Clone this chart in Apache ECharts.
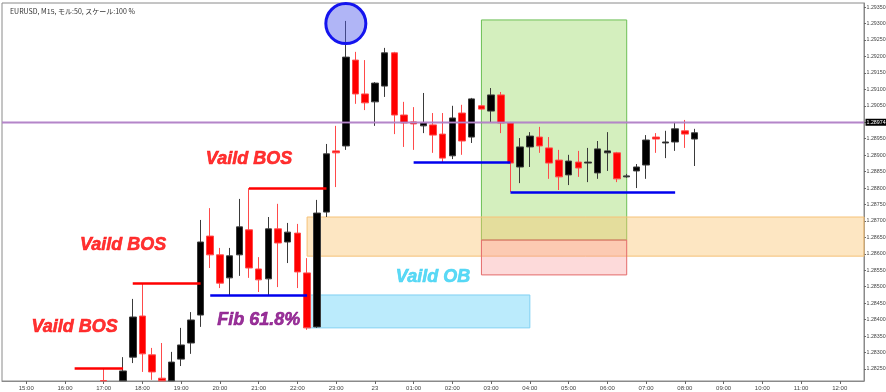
<!DOCTYPE html>
<html>
<head>
<meta charset="utf-8">
<script src="https://cdn.jsdelivr.net/npm/echarts@6/dist/echarts.min.js"></script>
<style>
html,body{margin:0;padding:0;background:#fff;}
#c{width:886px;height:392px;}
</style>
</head>
<body>
<div id="c"></div>
<script>
// ---- data ----
var chartTitle = 'EURUSD, M15, モル:50, スケール:100 %';
var axisStart = '14:30';
var axisSlots = 89;
var candleTimes = ['17:00','17:30','17:45','18:00','18:15','18:30','18:45','19:00','19:15','19:30','19:45','20:00','20:15','20:30','20:45','21:00','21:15','21:30','21:45','22:00','22:15','22:30','22:45','23:00','23:15','23:30','23:45','00:00','00:15','00:30','00:45','01:00','01:15','01:30','01:45','02:00','02:15','02:30','02:45','03:00','03:15','03:30','03:45','04:00','04:15','04:30','04:45','05:00','05:15','05:30','05:45','06:00','06:15','06:30','06:45','07:00','07:15','07:30','07:45','08:00','08:15'];
var opens  = [1.28215,1.28214,1.28286,1.28411,1.28293,1.28222,1.28214,1.28280,1.28329,1.28414,1.28654,1.28597,1.28527,1.28597,1.28673,1.28554,1.28524,1.28676,1.28636,1.28663,1.28542,1.28378,1.28727,1.28913,1.28928,1.29189,1.29086,1.29062,1.29110,1.29211,1.29022,1.29001,1.28989,1.28992,1.28964,1.28898,1.29028,1.28955,1.29050,1.29034,1.29083,1.28998,1.28864,1.28925,1.28955,1.28922,1.28885,1.28840,1.28879,1.28876,1.28846,1.28907,1.28907,1.28834,1.28852,1.28870,1.28955,1.28937,1.28940,1.28974,1.28949];
var closes = [1.28214,1.28244,1.28408,1.28296,1.28241,1.28214,1.28271,1.28323,1.28399,1.28636,1.28597,1.28511,1.28594,1.28682,1.28557,1.28521,1.28676,1.28633,1.28666,1.28545,1.28375,1.28724,1.28904,1.28907,1.29198,1.29086,1.29059,1.29119,1.29211,1.29022,1.28998,1.28995,1.28998,1.28961,1.28891,1.29013,1.28943,1.29071,1.29040,1.29083,1.28998,1.28876,1.28925,1.28958,1.28928,1.28876,1.28834,1.28882,1.28861,1.28879,1.28919,1.28913,1.28828,1.28837,1.28864,1.28946,1.28949,1.28940,1.28980,1.28964,1.28968];
var lows   = [1.28214,1.28214,1.28268,1.28241,1.28217,1.28214,1.28214,1.28259,1.28296,1.28378,1.28557,1.28496,1.28475,1.28533,1.28527,1.28484,1.28475,1.28499,1.28572,1.28496,1.28369,1.28375,1.28712,1.28803,1.28916,1.29056,1.29037,1.28989,1.29077,1.28964,1.28925,1.28916,1.28967,1.28907,1.28879,1.28888,1.28901,1.28937,1.29037,1.28998,1.28967,1.28788,1.28815,1.28864,1.28907,1.28828,1.28794,1.28809,1.28834,1.28818,1.28828,1.28852,1.28818,1.28831,1.28800,1.28828,1.28907,1.28891,1.28913,1.28922,1.28867];
var highs  = [1.28253,1.28286,1.28463,1.28511,1.28314,1.28329,1.28302,1.28375,1.28423,1.28703,1.28739,1.28618,1.28618,1.28767,1.28800,1.28590,1.28712,1.28752,1.28694,1.28691,1.28587,1.28764,1.28934,1.28989,1.29308,1.29214,1.29189,1.29122,1.29226,1.29214,1.29062,1.29046,1.29089,1.29028,1.29028,1.29050,1.29053,1.29074,1.29053,1.29104,1.29092,1.29001,1.28952,1.28970,1.28986,1.28955,1.28916,1.28901,1.28913,1.28922,1.28943,1.28970,1.28910,1.28843,1.28873,1.28961,1.28967,1.28974,1.29001,1.29007,1.28980];
var priceTicks = [1.28250,1.28300,1.28350,1.28400,1.28450,1.28500,1.28550,1.28600,1.28650,1.28700,1.28750,1.28800,1.28850,1.28900,1.28950,1.29000,1.29050,1.29100,1.29150,1.29200,1.29250,1.29300,1.29350];
var priceMin = 1.282135, priceMax = 1.293625;
var bidPrice = 1.28974;
var bidLines = [1.28978, 1.28969];
// BOS (red) lines: [from, to, price]
var bosLines = [['16:15','17:30',1.28253],['17:45','19:30',1.28511],['20:45','22:45',1.28800]];
// blue lines
var blueLines = [['19:45','22:15',1.28475],['01:00','03:30',1.28879],['03:30','07:45',1.28788]];
// zones: [from, to(null = right edge), top, bottom]
var zoneGreen = ['02:45','06:30',1.29311,1.28642];
var zonePink  = ['02:45','06:30',1.28642,1.28536];
var zoneOrange = ['22:15',null,1.28712,1.28593];
var zoneBlue  = ['22:15','04:00',1.28475,1.28375];
var circlePoint = ['23:15',1.29300];
var notes = [
  ['16:15',1.28378,'Vaild BOS','red'],
  ['17:30',1.28627,'Vaild BOS','red'],
  ['20:45',1.28888,'Vaild BOS','red'],
  ['21:00',1.28399,'Fib 61.8%','purple'],
  ['01:30',1.28530,'Vaild OB','cyan']
];

// ---- build ----
function pad(n){return (n<10?'0':'')+n;}
var cats = [];
(function(){
  var p = axisStart.split(':'); var m = (+p[0])*60 + (+p[1]);
  for (var i=0;i<axisSlots;i++){ var t=(m+i*15)%1440; cats.push(pad(Math.floor(t/60))+':'+pad(t%60)); }
})();
var ohlc = cats.map(function(c){
  var k = candleTimes.indexOf(c);
  return k<0 ? '-' : [opens[k], closes[k], lows[k], highs[k]];
});
var noteColors = {red:'#ff0000', purple:'#800080', cyan:'#33d0f2'};
function zone(z, fill, border){
  var a = {xAxis:z[0], yAxis:z[2], itemStyle:{color:fill, borderColor:border, borderWidth:1}};
  var b = {yAxis:z[3]};
  if (z[1]) b.xAxis = z[1];
  return [a,b];
}
function seg(l, color){
  return [{coord:[l[0],l[2]], lineStyle:{color:color}}, {coord:[l[1],l[2]]}];
}
var isHour = function(i, v){ return /:00$/.test(v); };
var smallFont = "'Liberation Sans', sans-serif";

var chart = echarts.init(document.getElementById('c'));
chart.setOption({
  animation:false,
  backgroundColor:'#ffffff',
  title:{text:chartTitle, left:5, top:3, textStyle:{fontSize:7, fontWeight:'normal', color:'#333', fontFamily:'Noto Sans CJK JP'}},
  grid:{left:2, top:3, width:862, height:378, show:true, borderColor:'#8a8a8a', borderWidth:1, backgroundColor:'transparent', containLabel:false, outerBoundsMode:'none'},
  xAxis:{type:'category', data:cats, boundaryGap:true,
    axisLine:{show:true, lineStyle:{color:'#8a8a8a'}},
    axisTick:{show:true, interval:isHour, alignWithLabel:true, length:3, lineStyle:{color:'#666'}},
    axisLabel:{interval:isHour, fontSize:6, color:'#444', margin:4, fontFamily:smallFont,
      formatter:function(v){ return v==='00:00' ? '23' : v; }},
    splitLine:{show:false}},
  yAxis:{type:'value', position:'right', min:priceMin, max:priceMax, scale:true,
    axisLine:{show:true, lineStyle:{color:'#8a8a8a'}},
    axisTick:{show:true, length:2, customValues:priceTicks, lineStyle:{color:'#666'}},
    axisLabel:{customValues:priceTicks, fontSize:5.3, color:'#444', margin:2.5, fontFamily:smallFont,
      formatter:function(v){ return v.toFixed(5); }},
    splitLine:{show:false}},
  series:[
    {type:'line', data:[], z:1, silent:true,
      markArea:{silent:true, label:{show:false}, data:[
        zone(zoneGreen,'rgba(160,220,110,0.45)','#6cbf55'),
        zone(zoneOrange,'rgba(251,196,110,0.42)','#f6c278'),
        zone(zonePink,'rgba(250,150,150,0.35)','#e46a6a'),
        zone(zoneBlue,'rgba(120,215,250,0.5)','#7fd0f3')
      ]}},
    {type:'candlestick', data:ohlc, z:2, barWidth:7, clip:true,
      itemStyle:{color:'#000000', color0:'#ff0000', borderColor:'#3a3a3a', borderColor0:'#ff4a4a', borderWidth:1}},
    {type:'line', data:[], z:3, silent:true,
      markLine:{silent:true, symbol:['none','none'], label:{show:false}, lineStyle:{type:'solid', width:2.5},
        data: bosLines.map(function(l){return seg(l,'#ff0000');}).concat(blueLines.map(function(l){return seg(l,'#0000ee');}))},
      markPoint:{silent:true, data:[{coord:circlePoint, symbol:'circle', symbolSize:40,
        itemStyle:{color:'rgba(80,90,235,0.45)', borderColor:'#1414ee', borderWidth:3}, label:{show:false}}]}},
    {type:'line', data:[], z:4, silent:true,
      markLine:{silent:true, symbol:['none','none'], data:[
        {yAxis:bidLines[0], lineStyle:{color:'#9c50c0', width:1.4, type:'solid'},
          label:{show:true, position:'end', formatter:bidPrice.toFixed(5), color:'#fff', backgroundColor:'#000', fontSize:5.3, padding:[1,1], distance:1.5, fontFamily:smallFont}},
        {yAxis:bidLines[1], lineStyle:{color:'#b486c8', width:1.4, type:'solid'}, label:{show:false}}
      ]}},
    {type:'scatter', z:5, silent:true, symbolSize:0,
      data: notes.map(function(n){ var c = noteColors[n[3]]; return {value:[n[0],n[1],n[2]], label:{color:c, textBorderColor:c, textBorderWidth:0.6}}; }),
      label:{show:true, position:'inside', fontSize:18, fontWeight:'bold', fontStyle:'italic', fontFamily:'Liberation Sans',
        formatter:function(p){ return p.value[2]; }}}
  ]
});
</script>
</body>
</html>
